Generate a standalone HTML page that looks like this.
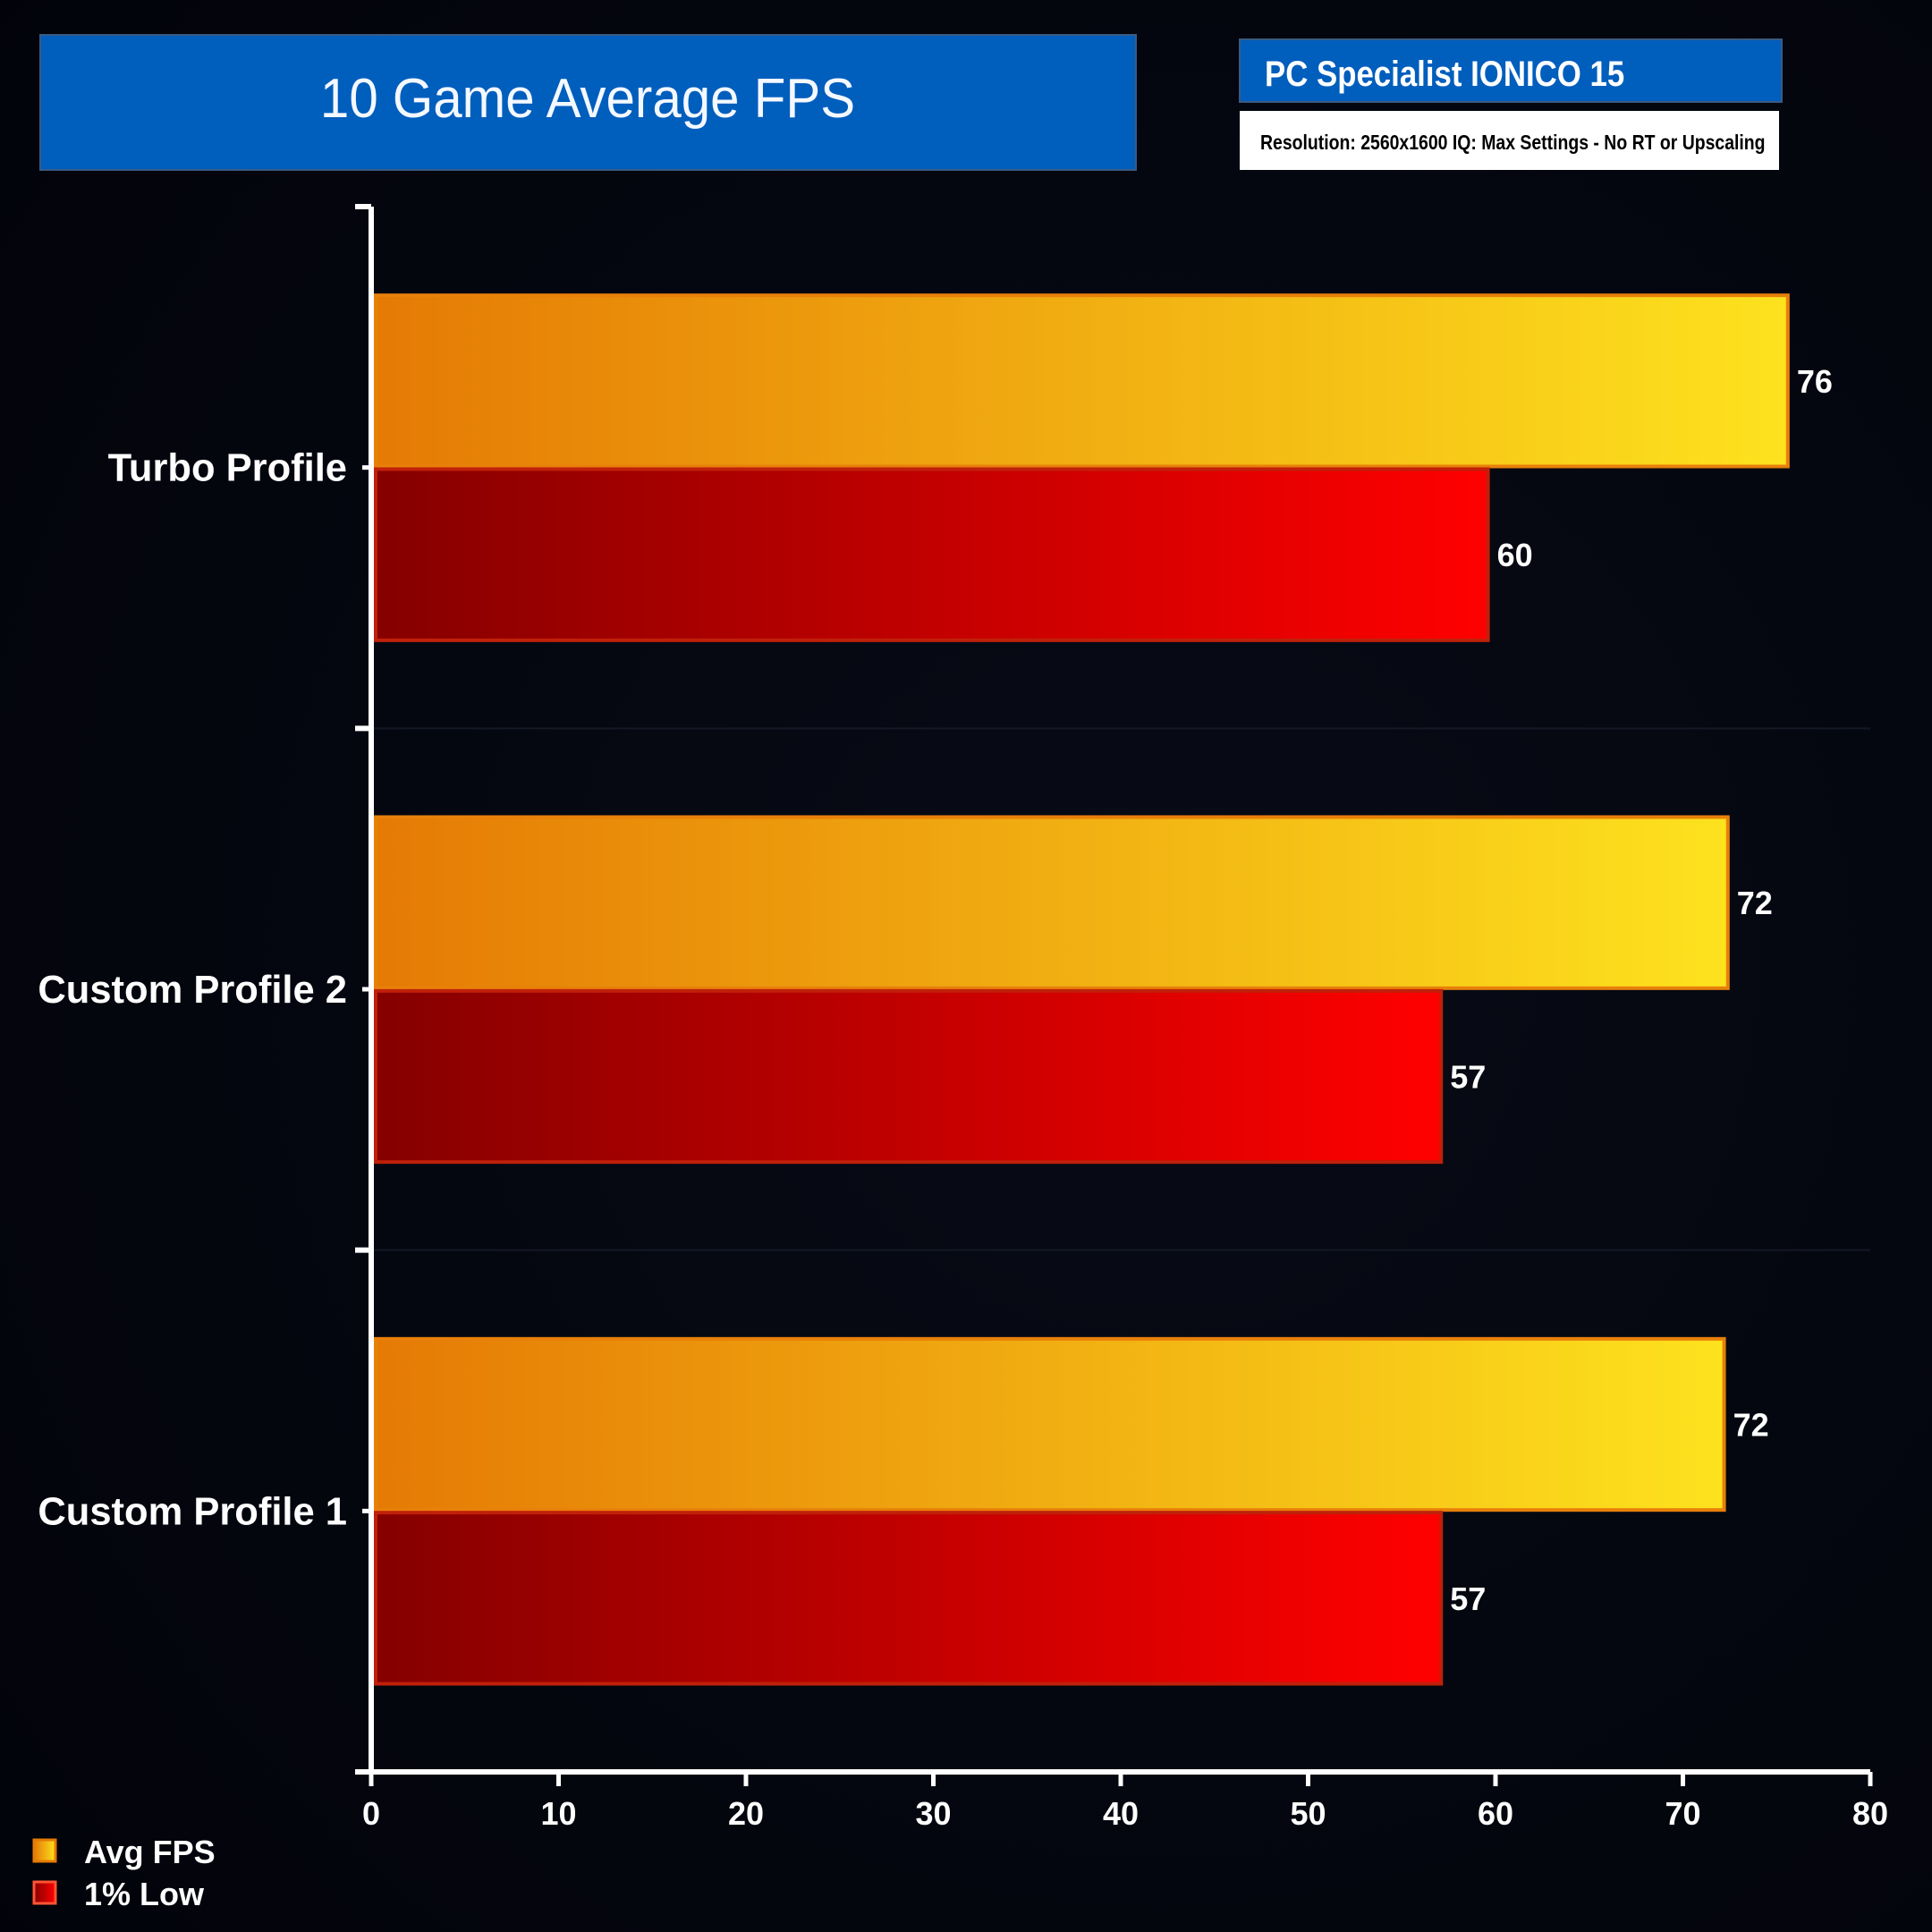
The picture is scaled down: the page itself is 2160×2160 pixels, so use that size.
<!DOCTYPE html>
<html><head><meta charset="utf-8"><style>
html,body{margin:0;padding:0;background:#03050c;}
svg{display:block;font-family:"Liberation Sans",sans-serif;}
</style></head><body>
<svg id="chart" width="2160" height="2160" viewBox="0 0 2160 2160" xmlns="http://www.w3.org/2000/svg">
<defs>
<radialGradient id="bg" cx="0.6" cy="0.5" r="0.8">
<stop offset="0" stop-color="#080b16"/><stop offset="1" stop-color="#02030a"/></radialGradient>
<linearGradient id="gAvg" x1="0" x2="1" y1="0" y2="0"><stop offset="0" stop-color="#e57a05"/><stop offset="1" stop-color="#fde21e"/></linearGradient>
<linearGradient id="gLow" x1="0" x2="1" y1="0" y2="0"><stop offset="0" stop-color="#850000"/><stop offset="1" stop-color="#ff0000"/></linearGradient>
</defs>
<rect width="2160" height="2160" fill="url(#bg)"/>
<rect x="45" y="39" width="1225" height="151" fill="#005ebd" stroke="#3a5a80" stroke-width="2"/>
<text x="657" y="131" font-size="62" fill="#f4f8ff" text-anchor="middle" transform="translate(657 0) scale(0.94 1) translate(-657 0)">10 Game Average FPS</text>
<rect x="1386" y="44" width="606" height="70" fill="#005ebd" stroke="#3a5a80" stroke-width="2"/>
<text x="1414" y="96" font-size="40" font-weight="bold" fill="#fff" transform="translate(1414 0) scale(0.87 1) translate(-1414 0)">PC Specialist IONICO 15</text>
<rect x="1386" y="124" width="603" height="66" fill="#fff"/>
<text x="1409" y="167" font-size="23" font-weight="bold" fill="#000" transform="translate(1409 0) scale(0.845 1) translate(-1409 0)">Resolution: 2560x1600 IQ: Max Settings - No RT or Upscaling</text>
<g id="plot"></g>
<g>
<rect x="38" y="2057" width="24" height="24" fill="url(#gAvg)" stroke="#e57a05" stroke-width="3"/>
<text x="94" y="2083" font-size="36" font-weight="bold" fill="#fff">Avg FPS</text>
<rect x="38" y="2104" width="24" height="24" fill="url(#gLow)" stroke="#ff5533" stroke-width="3"/>
<text x="94" y="2130" font-size="36" font-weight="bold" fill="#fff">1% Low</text>
</g>
</svg>
<script>
const categories = ["Turbo Profile","Custom Profile 2","Custom Profile 1"];
const avgValues = [75.6, 72.4, 72.2];
const lowValues = [59.6, 57.1, 57.1];
const avgLabels = ["76","72","72"];
const lowLabels = ["60","57","57"];
const xTicks = [0,10,20,30,40,50,60,70,80];

const NS="http://www.w3.org/2000/svg";
const g=document.getElementById('plot');
const X0=415, X1=2091, XMAX=80, YT=231, YB=1981;
const band=(YB-YT)/categories.length;
const x=v=>X0+(X1-X0)*v/XMAX;
function mk(t,a){const e=document.createElementNS(NS,t);for(const k in a)e.setAttribute(k,a[k]);g.appendChild(e);return e;}
for(let i=0;i<=categories.length;i++){
  const y=YT+band*i;
  if(i>0&&i<categories.length){const gl=mk('line',{x1:X0,x2:X1,y1:y,y2:y,stroke:'#141826','stroke-width':2});
  
  }
  const t=mk('line',{x1:X0-18,x2:X0,y1:y,y2:y,stroke:'#fff','stroke-width':6});
  
  
}
categories.forEach((c,i)=>{
  const b0=YT+band*i;
  const ya=b0+band*0.17, h=band*0.328;
  const a=mk('rect',{x:X0+5,y:ya,width:x(avgValues[i])-X0-5,height:h,fill:'url(#gAvg)',stroke:'#e8800a','stroke-width':4});
  
  
  const yl=ya+h+3;
  const l=mk('rect',{x:X0+5,y:yl,width:x(lowValues[i])-X0-5,height:h,fill:'url(#gLow)',stroke:'#c0200a','stroke-width':4});
  
  
  const ta=mk('text',{x:x(avgValues[i])+10,y:ya+h/2+13,'font-size':36,'font-weight':'bold',fill:'#fff'});
  ta.textContent=avgLabels[i];
  
  
  const tl=mk('text',{x:x(lowValues[i])+10,y:yl+h/2+13,'font-size':36,'font-weight':'bold',fill:'#fff'});
  tl.textContent=lowLabels[i];
  
  
  const ct=mk('line',{x1:X0-10,x2:X0,y1:b0+band/2,y2:b0+band/2,stroke:'#fff','stroke-width':5});
  
  
  const cl=mk('text',{x:388,y:b0+band/2+15,'font-size':43.5,'font-weight':'bold',fill:'#fff','text-anchor':'end'});
  cl.textContent=c;
  
  
});
xTicks.forEach(v=>{
  const t=mk('line',{x1:x(v),x2:x(v),y1:YB,y2:YB+16,stroke:'#fff','stroke-width':5});
  
  
  const tx=mk('text',{x:x(v),y:YB+59,'font-size':36,'font-weight':'bold',fill:'#fff','text-anchor':'middle'});
  tx.textContent=v;
  
  
});
const ya=mk('line',{x1:X0,x2:X0,y1:YT,y2:YB+3,stroke:'#fff','stroke-width':6});


const xa=mk('line',{x1:X0-3,x2:X1,y1:YB,y2:YB,stroke:'#fff','stroke-width':6});


</script>
</body></html>
